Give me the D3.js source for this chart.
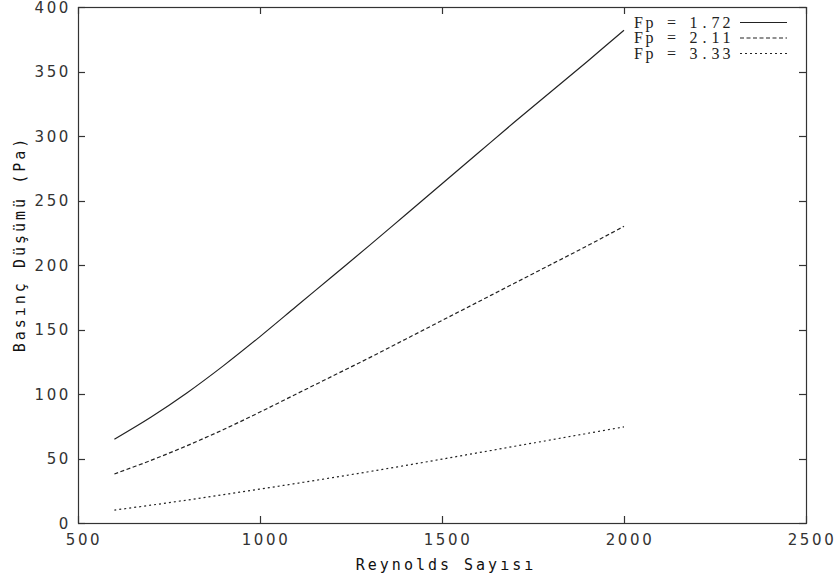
<!DOCTYPE html>
<html>
<head>
<meta charset="utf-8">
<script src="https://cdn.jsdelivr.net/npm/d3@7"></script>
<style>
  html, body { margin: 0; padding: 0; background: #fff; }
  svg { display: block; }
</style>
</head>
<body>
<svg id="chart" width="840" height="582"></svg>
<script>
// Reynolds number values shared by every curve
const reynolds = [600, 700, 800, 900, 1000, 1100, 1200, 1300, 1400, 1500, 1600, 1700, 1800, 1900, 2000];
// Pressure drop (Pa) for each packing factor
const dropFp172 = [65, 82, 101, 122, 144.5, 168, 191.5, 215, 239, 263, 287, 311, 334.5, 358, 382];
const dropFp211 = [38, 48.5, 60, 72.5, 86, 100, 114, 128, 142.5, 157, 171.5, 186, 200.5, 215, 230];
const dropFp333 = [10, 13.8, 17.8, 22, 26.3, 30.7, 35.2, 39.8, 44.6, 49.5, 54.5, 59.5, 64.5, 69.5, 74.5];
const seriesLabels = ["Fp = 1.72", "Fp = 2.11", "Fp = 3.33"];
const xTicks = [500, 1000, 1500, 2000, 2500];
const yTicks = [0, 50, 100, 150, 200, 250, 300, 350, 400];

const series = [
  { label: seriesLabels[0], values: dropFp172, dash: null },
  { label: seriesLabels[1], values: dropFp211, dash: "4,2.5" },
  { label: seriesLabels[2], values: dropFp333, dash: "2,3" }
];

const svg = d3.select("#chart");
const plotLeft = 78, plotRight = 806, plotTop = 7, plotBottom = 523;

const x = d3.scaleLinear().domain([500, 2500]).range([plotLeft, plotRight]);
const y = d3.scaleLinear().domain([0, 400]).range([plotBottom, plotTop]);

const ink = "#333";
const tickFont = "'DejaVu Sans', sans-serif";

// Frame
svg.append("rect")
  .attr("x", plotLeft + 0.5).attr("y", plotTop + 0.5)
  .attr("width", plotRight - plotLeft).attr("height", plotBottom - plotTop)
  .attr("fill", "none").attr("stroke", ink).attr("stroke-width", 1.2);

// Inward ticks on all four sides
const tickLen = 7;
const g = svg.append("g").attr("stroke", ink).attr("stroke-width", 1.2);
xTicks.forEach(t => {
  const px = Math.round(x(t)) + 0.5;
  g.append("line").attr("x1", px).attr("x2", px).attr("y1", plotBottom).attr("y2", plotBottom - tickLen);
  g.append("line").attr("x1", px).attr("x2", px).attr("y1", plotTop).attr("y2", plotTop + tickLen);
});
yTicks.forEach(t => {
  const py = Math.round(y(t)) + 0.5;
  g.append("line").attr("x1", plotLeft).attr("x2", plotLeft + tickLen).attr("y1", py).attr("y2", py);
  g.append("line").attr("x1", plotRight).attr("x2", plotRight - tickLen).attr("y1", py).attr("y2", py);
});

// Tick labels
svg.append("g").selectAll("text").data(xTicks).join("text")
  .attr("x", d => x(d) + 6).attr("y", 545)
  .attr("text-anchor", "middle")
  .attr("font-family", tickFont).attr("font-size", 15)
  .attr("letter-spacing", 2.6).attr("fill", ink)
  .text(d => d);

svg.append("g").selectAll("text").data(yTicks).join("text")
  .attr("x", 71).attr("y", d => y(d) + 5.5)
  .attr("text-anchor", "end")
  .attr("font-family", tickFont).attr("font-size", 15)
  .attr("letter-spacing", 2.6).attr("fill", ink)
  .text(d => d);

// Axis titles
const titleFont = "'DejaVu Sans Mono', monospace";
svg.append("text")
  .attr("x", 446).attr("y", 570)
  .attr("text-anchor", "middle")
  .attr("font-family", titleFont).attr("font-size", 15)
  .attr("letter-spacing", 3).attr("fill", "#111")
  .text("Reynolds Sayısı");

svg.append("text")
  .attr("transform", "translate(25,244) rotate(-90)")
  .attr("text-anchor", "middle")
  .attr("font-family", titleFont).attr("font-size", 15)
  .attr("letter-spacing", 3).attr("fill", "#111")
  .text("Basınç Düşümü (Pa)");

// Curves
const line = d3.line()
  .x((d, i) => x(reynolds[i]))
  .y(d => y(d))
  .curve(d3.curveCatmullRom.alpha(0.5));

series.forEach(s => {
  svg.append("path")
    .attr("d", line(s.values))
    .attr("fill", "none")
    .attr("stroke", "#222")
    .attr("stroke-width", 1.2)
    .attr("stroke-dasharray", s.dash);
});

// Legend: typewriter-style labels laid out on a fixed character pitch
const legendRows = [22.5, 38, 53.5];
const pitch = 11, legendTextLeft = 633;
series.forEach((s, i) => {
  const chars = Array.from(s.label);
  svg.append("text")
    .attr("x", chars.map((c, k) => legendTextLeft + pitch * k + pitch / 2).join(" "))
    .attr("y", legendRows[i] + 5)
    .attr("text-anchor", "middle")
    .attr("font-family", "'Liberation Serif', 'DejaVu Serif', serif")
    .attr("font-size", 16)
    .attr("fill", "#222")
    .text(s.label);
  svg.append("line")
    .attr("x1", 740).attr("x2", 787)
    .attr("y1", legendRows[i]).attr("y2", legendRows[i])
    .attr("stroke", "#222").attr("stroke-width", 1.2)
    .attr("stroke-dasharray", s.dash);
});
</script>
</body>
</html>
